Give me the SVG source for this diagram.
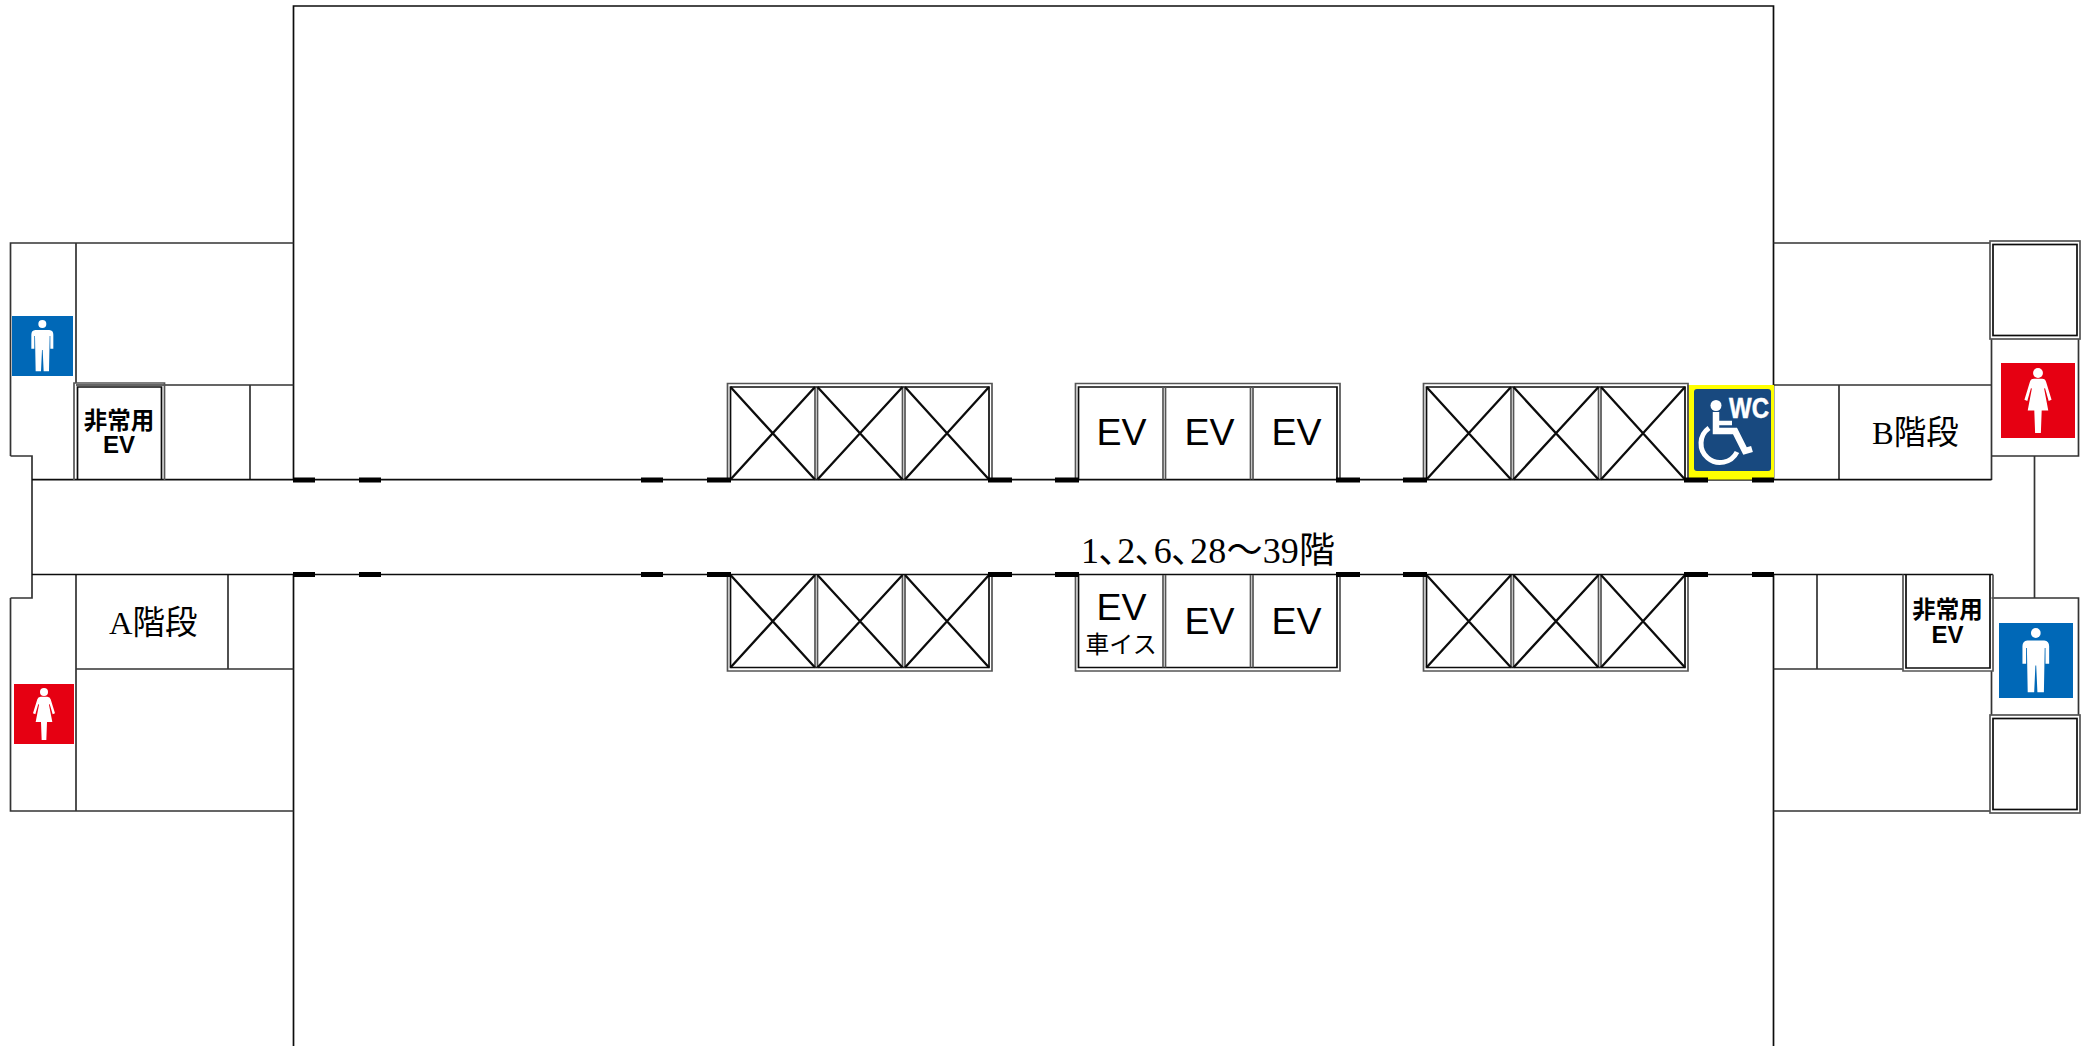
<svg xmlns="http://www.w3.org/2000/svg" xmlns:xlink="http://www.w3.org/1999/xlink" width="2091" height="1046" viewBox="0 0 2091 1046">
<style>
.w{fill:none;stroke:#333;stroke-width:1.7}
.k{fill:none;stroke:#0c0c0c;stroke-width:1.7}
.g{fill:none;stroke:#555;stroke-width:1.7}
.x{fill:none;stroke:#0c0c0c;stroke-width:2.3}
.d{fill:#000}
.s{font-family:"Liberation Serif","Noto Sans CJK JP",serif;fill:#000}
.a{font-family:"Liberation Sans","Noto Sans CJK JP",sans-serif;fill:#000;text-anchor:middle}
.ev{font-size:37.5px}
.em{font-size:23.5px;font-weight:700}
.p{fill:#fff}
</style>
<defs>
<g id="set">
<path class="g" d="M0 96V0H264.5V96"/>
<path class="k" d="M3 96V3.5H261.5V96"/>
<path class="g" d="M87.5 3.5V96M90 3.5V96M175 3.5V96M177.5 3.5V96"/>
</g>
<g id="xs">
<path class="x" d="M3 3.5L87.5 96M87.5 3.5L3 96M90 3.5L175 96M175 3.5L90 96M177.5 3.5L261.5 96M261.5 3.5L177.5 96"/>
</g>
<g id="man">
<circle class="p" cx="91" cy="24" r="12"/>
<path class="p" d="M70 42H112Q124 43 124 56V98H115V60H113L111 166H95L92 102H90L87 166H71L69 60H67V98H58V56Q58 43 70 42Z"/>
</g>
<g id="woman">
<circle class="p" cx="90" cy="24" r="12"/>
<path class="p" d="M80 38H100Q108 38 110 46L123 88L116 91L107 60L105 62L115 114H99L97 168H83L81 114H65L75 62L73 60L64 91L57 88L70 46Q72 38 80 38Z"/>
</g>
<g id="box">
<rect class="g" x="0" y="0" width="90" height="98"/>
<rect class="k" x="3" y="3.5" width="84" height="91"/>
</g>
</defs>
<rect width="2091" height="1046" fill="#fff"/>
<g id="walls">
<path class="k" d="M293.5 1046V574.5M293.5 480V6H1773.5V480M1773.5 574.5V1046"/>
<path class="w" d="M76 383V243M10.5 456V243H293.5M76 574.5V811M10.5 598V811H293.5M76 669H293.5M228 574.5V669M76 385H293.5M250 385V480"/>
<path class="w" d="M32 480V456H10.5M32 574.5V598H10.5M32 480V574.5"/>
<path class="w" d="M1773.5 243H1990M1773.5 385H1991.5M1839 385V480M1991.5 339V480M2078.5 339V456H1991.5M2034.5 456V598M1991.5 598H2078.5V715M1991.5 671V715M1773.5 811H1990M1773.5 669H1903M1817 574.5V669"/>
<path class="k" d="M32 479.7H1991.5M32 574.5H1993"/>
</g>
<g id="accessible-wc">
<rect x="1688" y="385" width="86" height="95" fill="#ff0"/>
<rect x="1694" y="389" width="77" height="82" rx="3" fill="#18497f"/>
<circle class="p" cx="1716" cy="405.5" r="5.5"/>
<path d="M1716 412V431H1735L1745 451L1752 449" fill="none" stroke="#fff" stroke-width="6.5"/>
<path d="M1716 423H1732" fill="none" stroke="#fff" stroke-width="4.5"/>
<path d="M1709 428A19 19 0 1 0 1737 452" fill="none" stroke="#fff" stroke-width="5"/>
<text x="1729" y="418" font-family="Liberation Sans" font-size="29" font-weight="700" fill="#fff" textLength="40" lengthAdjust="spacingAndGlyphs" stroke="#fff" stroke-width=".5">WC</text>
<path d="M1688 385V480H1774" fill="none" stroke="#333" stroke-width="1.2"/>
</g>
<g id="elevator-banks">
<g id="bank-ul"><use href="#set" transform="translate(727.5 383.5)"/><use href="#xs" transform="translate(727.5 383.5)"/></g>
<g id="bank-uc"><use href="#set" transform="translate(1075.5 383.5)"/></g>
<g id="bank-ur"><use href="#set" transform="translate(1423.5 383.5)"/><use href="#xs" transform="translate(1423.5 383.5)"/></g>
<g id="bank-ll"><use href="#set" transform="translate(727.5 671) scale(1 -1)"/><use href="#xs" transform="translate(727.5 671) scale(1 -1)"/></g>
<g id="bank-lc"><use href="#set" transform="translate(1075.5 671) scale(1 -1)"/></g>
<g id="bank-lr"><use href="#set" transform="translate(1423.5 671) scale(1 -1)"/><use href="#xs" transform="translate(1423.5 671) scale(1 -1)"/></g>
</g>
<g id="ev-emergency-a">
<path class="g" d="M74 480V383H164.5V480"/>
<path class="k" d="M77.5 480V387H161.5V480"/>
<text class="a em" x="119" y="429">非常用</text>
<text class="a em" x="119" y="453" style="font-size:24px">EV</text>
</g>
<g id="ev-emergency-b">
<path class="g" d="M1903 574.5V671H1993V574.5"/>
<path class="k" d="M1906 574.5V668H1990V574.5"/>
<text class="a em" x="1947.5" y="618">非常用</text>
<text class="a em" x="1947.5" y="643" style="font-size:24px">EV</text>
</g>
<g id="shaft-top"><use href="#box" transform="translate(1990 241)"/></g>
<g id="shaft-bottom"><use href="#box" transform="translate(1990 715)"/></g>
<g id="doors">
<path class="d" d="M293 477.5h22v5h-22zM359 477.5h22v5h-22zM641 477.5h22v5h-22zM707 477.5h24v5h-24zM988 477.5h24v5h-24zM1055 477.5h24v5h-24zM1336 477.5h24v5h-24zM1403 477.5h24v5h-24zM1684 477.5h24v5h-24zM1752 477.5h22v5h-22z"/>
<path class="d" d="M293 572h22v5h-22zM359 572h22v5h-22zM641 572h22v5h-22zM707 572h24v5h-24zM988 572h24v5h-24zM1055 572h24v5h-24zM1336 572h24v5h-24zM1403 572h24v5h-24zM1684 572h24v5h-24zM1752 572h22v5h-22z"/>
</g>
<g id="toilet-m-left"><rect x="12" y="316" width="61" height="60" fill="#0068b7"/><use href="#man" transform="translate(12 316) scale(.3333)"/></g>
<g id="toilet-f-left"><rect x="14" y="684" width="60" height="60" fill="#e60012"/><use href="#woman" transform="translate(14 684) scale(.3333)"/></g>
<g id="toilet-f-right"><rect x="2001" y="363" width="74" height="75" fill="#e60012"/><use href="#woman" transform="translate(2001 363) scale(.411 .4167)"/></g>
<g id="toilet-m-right"><rect x="1999" y="623" width="74" height="75" fill="#0068b7"/><use href="#man" transform="translate(1999 623) scale(.4044 .4167)"/></g>
<g id="labels">
<text class="a ev" x="1121.5" y="445">EV</text>
<text class="a ev" x="1209.5" y="445">EV</text>
<text class="a ev" x="1296.5" y="445">EV</text>
<text class="a ev" x="1121.5" y="619.5">EV</text>
<text class="a" x="1121" y="652.5" font-size="24">車イス</text>
<text class="a ev" x="1209.5" y="633.5">EV</text>
<text class="a ev" x="1296.5" y="633.5">EV</text>
<text class="s" x="1081" y="563" font-size="36" textLength="254">1､2､6､28～39階</text>
<text class="s" x="109" y="634" font-size="32.5">A階段</text>
<text class="s" x="1872" y="444" font-size="32.5">B階段</text>
</g>
</svg>
